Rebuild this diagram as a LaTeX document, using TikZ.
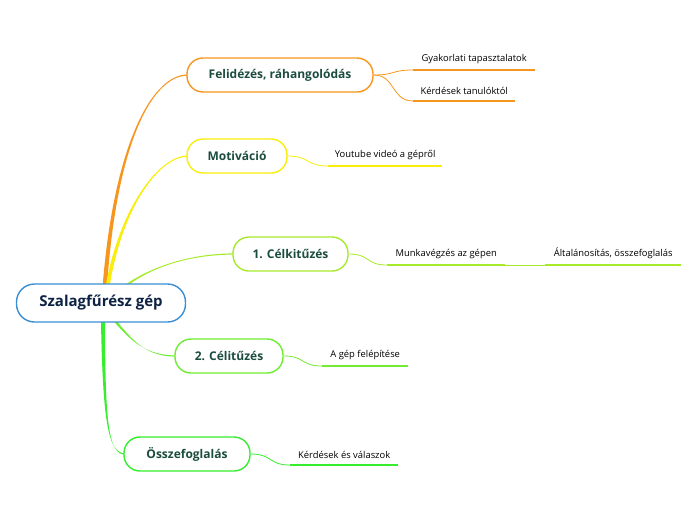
\documentclass[tikz,border=0pt]{standalone}
\usepackage{fontspec}
\setmainfont{Open Sans}
\usetikzlibrary{calc}
\definecolor{cRoot}{HTML}{3A8ED3}
\definecolor{cRootTxt}{HTML}{0E2244}
\definecolor{cTxt}{HTML}{1B4D3E}
\definecolor{cOr}{HTML}{F7961E}
\definecolor{cYe}{HTML}{F8EE0A}
\definecolor{cLi}{HTML}{A6EA2A}
\definecolor{cGr}{HTML}{70EC32}
\definecolor{cBg}{HTML}{36EE2E}
\newcommand\mmtaper[6]{%
  \fill[#1] ($(#2)+(-#6,0)$) .. controls ($(#3)+(-#6*0.6,0)$) and ($(#4)+(0,-0.6)$) .. ($(#5)+(0,-0.6)$)
    -- ($(#5)+(0,0.6)$) .. controls ($(#4)+(0,0.6)$) and ($(#3)+(#6*0.6,0)$) .. ($(#2)+(#6,0)$) -- cycle;}
\tikzset{
  rootbox/.style={draw=cRoot, line width=1.4pt, fill=white, rounded corners=18pt,
    minimum width=169pt, minimum height=38pt, text=cRootTxt,
    font=\fontsize{15}{18}\selectfont\bfseries},
  childbox/.style={draw=#1, line width=1.4pt, fill=white, rounded corners=16pt,
    minimum height=34pt, text=cTxt, font=\fontsize{12}{14}\selectfont\bfseries},
  sub/.style={anchor=south west, inner xsep=0pt, inner ysep=6pt, text=black,
    font=\fontsize{9.4}{11}\selectfont},
  uline/.style={draw=#1, line width=2.8pt},
  thin/.style={draw=#1, line width=0.8pt},
}
\begin{document}
\begin{tikzpicture}[x=1pt,y=-1pt]
\useasboundingbox (0,0) rectangle (696,520);
% connectors from root
\coordinate (s1) at (105,284);
\coordinate (s2) at (108,284);
\coordinate (s3) at (128,284);
\coordinate (s4) at (116,322);
\coordinate (s5) at (103,322);
\coordinate (e1) at (188,75);
\coordinate (e2) at (188,156);
\coordinate (e3) at (234,254);
\coordinate (e4) at (176,356);
\coordinate (e5) at (125,454);
\mmtaper{cOr}{s1}{115,150}{150,75}{e1}{2.2}
\mmtaper{cYe}{s2}{122,205}{160,156}{e2}{2.0}
\mmtaper{cLi}{s3}{160,262}{200,254}{e3}{1.8}
\mmtaper{cGr}{s4}{135,345}{150,356}{e4}{1.6}
\mmtaper{cBg}{s5}{104,420}{108,454}{e5}{2.0}
% root and children
\node[rootbox] (root) at (101,303) {Szalagfűrész gép};
\node[childbox=cOr, minimum width=186pt] (c1) at (280,75) {Felidézés, ráhangolódás};
\node[childbox=cYe, minimum width=100pt] (c2) at (237,156) {Motiváció};
\node[childbox=cLi, minimum width=115pt] (c3) at (290.5,254) {1. Célkitűzés};
\node[childbox=cGr, minimum width=108pt] (c4) at (229,356) {2. Célitűzés};
\node[childbox=cBg, minimum width=126pt] (c5) at (187,454) {Összefoglalás};
% sub nodes
\node[sub, minimum width=122pt] (g1) at (413,70) {Gyakorlati tapasztalatok};
\node[sub, minimum width=102pt] (g2) at (413,101) {Kérdések tanulóktól};
\node[sub, minimum width=114pt] (y1) at (328,166) {Youtube videó a gépről};
\node[sub, minimum width=118pt] (l1) at (387,265) {Munkavégzés az gépen};
\node[sub, minimum width=136pt] (l2) at (545,265) {Általánosítás, összefoglalás};
\node[sub, minimum width=86pt] (a1) at (322,366) {A gép felépítése};
\node[sub, minimum width=108pt] (k1) at (290,465) {Kérdések és válaszok};
% sub connectors
\draw[thin=cOr] (c1.east) .. controls +(22,0) and +(-22,0) .. (g1.south west);
\draw[thin=cOr] (c1.east) .. controls +(22,0) and +(-22,0) .. (g2.south west);
\draw[thin=cYe] (c2.east) .. controls +(22,0) and +(-22,0) .. (y1.south west);
\draw[thin=cLi] (c3.east) .. controls +(22,0) and +(-22,0) .. (l1.south west);
\draw[thin=cLi] (l1.south east) -- (l2.south west);
\draw[thin=cGr] (c4.east) .. controls +(22,0) and +(-22,0) .. (a1.south west);
\draw[thin=cBg] (c5.east) .. controls +(22,0) and +(-22,0) .. (k1.south west);
% underlines
\draw[uline=cOr] (g1.south west) -- (g1.south east);
\draw[uline=cOr] (g2.south west) -- (g2.south east);
\draw[uline=cYe] (y1.south west) -- (y1.south east);
\draw[uline=cLi] (l1.south west) -- (l1.south east);
\draw[uline=cLi] (l2.south west) -- (l2.south east);
\draw[uline=cGr] (a1.south west) -- (a1.south east);
\draw[uline=cBg] (k1.south west) -- (k1.south east);
\end{tikzpicture}
\end{document}
